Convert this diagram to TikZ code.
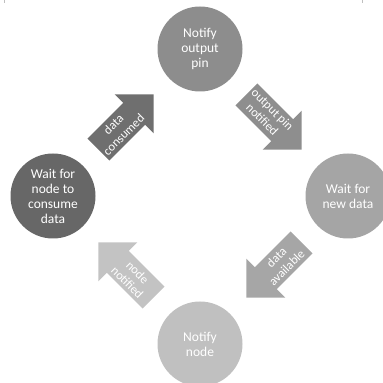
\documentclass[tikz,border=0pt]{standalone}
\usepackage{fontspec}
\setmainfont{Carlito}
\definecolor{cA}{HTML}{676767}
\definecolor{cB}{HTML}{8D8D8D}
\definecolor{cC}{HTML}{A5A5A5}
\definecolor{cD}{HTML}{C0C0C0}
\definecolor{aA}{HTML}{6F6F6F}
\definecolor{aB}{HTML}{8E8E8E}
\definecolor{aC}{HTML}{A6A6A6}
\definecolor{aD}{HTML}{C3C3C3}
\newcommand\fatarrow[3]{%
  \fill[#3, shift={#1}, rotate=#2] (-39,-15.5) -- (11.5,-15.5) -- (11.5,-27.5) -- (39,0) -- (11.5,27.5) -- (11.5,15.5) -- (-39,15.5) -- cycle;}
\begin{document}
\begin{tikzpicture}[x=1pt,y=1pt,
  state/.style={circle, minimum size=85pt, inner sep=0pt, align=center, text=white, font=\fontsize{13.5}{15}\selectfont},
  lbl/.style={align=center, text=white, font=\fontsize{12.5}{14.5}\selectfont, inner sep=0pt},
]
\useasboundingbox (0,0) rectangle (383,383);
\begin{scope}
\clip (0,0) rectangle (383,383);
\node[state, fill=cB] (top) at (200,334) {Notify\\output\\pin};
\node[state, fill=cA] (left) at (53,187) {Wait for\\node to\\consume\\data};
\node[state, fill=cC] (right) at (348,187) {Wait for\\new data};
\node[state, fill=cD] (bottom) at (200,39) {Notify\\node};
\fatarrow{(126,261)}{45}{aA}
\fatarrow{(274,261)}{-45}{aB}
\fatarrow{(274,113)}{225}{aC}
\fatarrow{(126,113)}{135}{aD}
\node[lbl, rotate=45] (l1) at (118.5,253.5) {data\\consumed};
\node[lbl, rotate=-45] (l2) at (267.5,268.5) {output pin\\notified};
\node[lbl, rotate=45] (l3) at (281.5,120.5) {data\\available};
\node[lbl, rotate=-45] (l4) at (132.5,105.5) {node\\notified};
\draw[black!25, line width=0.6pt] (4,383) -- (4,380) (362,383) -- (362,380);
\end{scope}
\end{tikzpicture}
\end{document}
